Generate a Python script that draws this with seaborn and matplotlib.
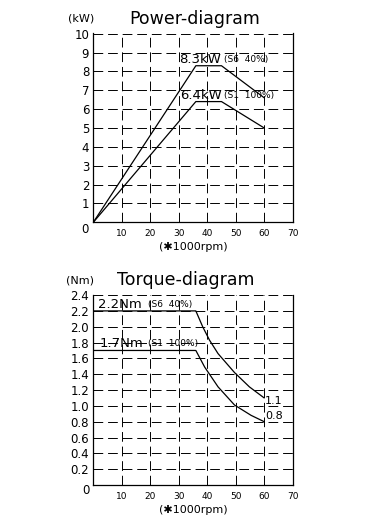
import numpy as np
import pandas as pd
import matplotlib
matplotlib.use('Agg')
import matplotlib.pyplot as plt
import seaborn as sns

### data
# power diagram (kW vs x1000 rpm)
power_s6_rpm = [0, 36, 45, 60]
power_s6_kw = [0, 8.3, 8.3, 6.6]
power_s1_rpm = [0, 36, 45, 60]
power_s1_kw = [0, 6.4, 6.4, 5.0]

# torque diagram (Nm vs x1000 rpm)
torque_s6_rpm = [0, 36, 38.4, 40.8, 43.8, 49.6, 54.8, 60]
torque_s6_nm = [2.2, 2.2, 2.0, 1.83, 1.66, 1.42, 1.24, 1.1]
torque_s1_rpm = [0, 36, 39.1, 43.8, 49.6, 55.4, 60]
torque_s1_nm = [1.7, 1.7, 1.49, 1.24, 1.01, 0.88, 0.8]

power_yticks = list(range(1, 11))
torque_yticks = [0.2, 0.4, 0.6, 0.8, 1.0, 1.2, 1.4, 1.6, 1.8, 2.0, 2.2, 2.4]
xticks = [10, 20, 30, 40, 50, 60, 70]

power = pd.concat([
    pd.DataFrame({'rpm': power_s6_rpm, 'val': power_s6_kw, 'mode': 'S6'}),
    pd.DataFrame({'rpm': power_s1_rpm, 'val': power_s1_kw, 'mode': 'S1'}),
])
torque = pd.concat([
    pd.DataFrame({'rpm': torque_s6_rpm, 'val': torque_s6_nm, 'mode': 'S6'}),
    pd.DataFrame({'rpm': torque_s1_rpm, 'val': torque_s1_nm, 'mode': 'S1'}),
])

sns.set_style('white')
plt.rcParams['font.family'] = ['DejaVu Sans']
plt.rcParams['text.color'] = 'black'
plt.rcParams['xtick.color'] = 'black'
plt.rcParams['ytick.color'] = 'black'

fig = plt.figure(figsize=(3.78, 5.29), dpi=100)
ax1 = fig.add_axes([93.3 / 378, 1 - 222.3 / 529, 199.4 / 378, 189 / 529])
ax2 = fig.add_axes([93.3 / 378, 1 - 485 / 529, 199.4 / 378, 190.3 / 529])

dash = (0, (10, 5))


def style_axis(ax, ymax, yticks, ylabels):
    ax.set_xlim(0, 70)
    ax.set_ylim(0, ymax * 1.002)
    ax.set_yticks(yticks)
    ax.set_yticklabels(ylabels, fontsize=8.5, color='black')
    ax.set_xticks([10, 20, 30, 40, 50, 60])
    ax.set_xticklabels([])
    ax.tick_params(axis='both', length=0)
    ax.tick_params(axis='y', pad=3)
    ax.grid(True, color='black', linestyle=dash, linewidth=0.7)
    for t in xticks:
        ax.text(t, -0.062 * ymax, str(t), ha='center', va='center', fontsize=6.5)
    for s in ['left', 'bottom', 'right']:
        ax.spines[s].set_visible(True)
        ax.spines[s].set_color('black')
        ax.spines[s].set_linewidth(0.9)
    ax.spines['top'].set_visible(False)
    ax.set_xlabel('')
    ax.set_ylabel('')
    ax.text(35, -0.13 * ymax, '(\u27311000rpm)', ha='center', va='center', fontsize=8)


### power diagram
sns.lineplot(data=power, x='rpm', y='val', hue='mode', palette=['black', 'black'],
             linewidth=0.9, legend=False, sort=False, ax=ax1)
style_axis(ax1, 10, power_yticks, [str(t) for t in power_yticks])
ax1.text(-3.0, -0.4, '0', ha='center', va='center', fontsize=8.5)
ax1.text(35.5, 10.8, 'Power-diagram', ha='center', va='center', fontsize=12.5)
ax1.text(-4.2, 10.8, '(kW)', ha='center', va='center', fontsize=8)
ax1.text(30.3, 8.3, '8.3kW', ha='left', va='bottom', fontsize=9.5)
ax1.text(46, 8.4, '(S6  40%)', ha='left', va='bottom', fontsize=6.5)
ax1.text(30.5, 6.4, '6.4kW', ha='left', va='bottom', fontsize=9.5)
ax1.text(46, 6.5, '(S1  100%)', ha='left', va='bottom', fontsize=6.5)

### torque diagram
sns.lineplot(data=torque, x='rpm', y='val', hue='mode', palette=['black', 'black'],
             linewidth=0.9, legend=False, sort=False, ax=ax2)
style_axis(ax2, 2.4, torque_yticks, ['%.1f' % t for t in torque_yticks])
ax2.text(-2.6, -0.07, '0', ha='center', va='center', fontsize=8.5)
ax2.text(32.5, 2.585, 'Torque-diagram', ha='center', va='center', fontsize=12.5)
ax2.text(-4.5, 2.585, '(Nm)', ha='center', va='center', fontsize=8)
ax2.text(1.5, 2.2, '2.2Nm', ha='left', va='bottom', fontsize=9.5)
ax2.text(19.3, 2.22, '(S6  40%)', ha='left', va='bottom', fontsize=6.5)
ax2.text(2.3, 1.71, '1.7Nm', ha='left', va='bottom', fontsize=9.5)
ax2.text(19.3, 1.73, '(S1  100%)', ha='left', va='bottom', fontsize=6.5)
ax2.text(60.3, 1.06, '1.1', ha='left', va='center', fontsize=8)
ax2.text(60.3, 0.87, '0.8', ha='left', va='center', fontsize=8)

fig.savefig('out.png', dpi=100, facecolor='white')
